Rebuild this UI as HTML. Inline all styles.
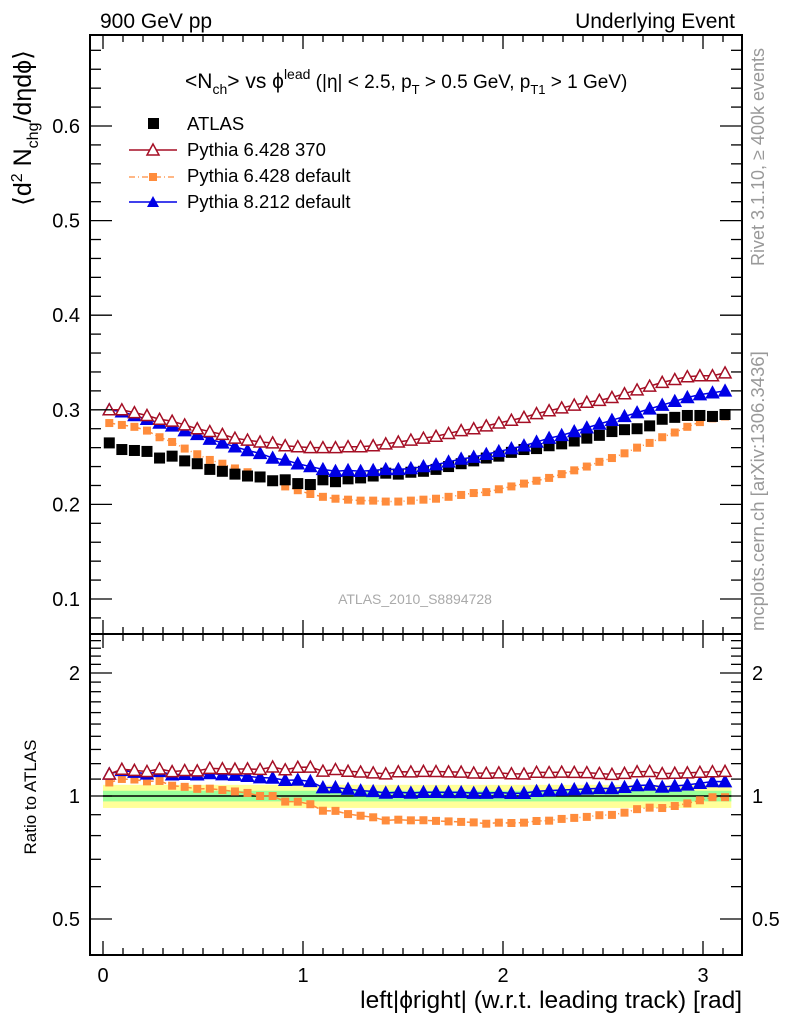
<!DOCTYPE html>
<html><head><meta charset="utf-8"><style>
body{margin:0;background:#fff;}
svg{display:block;font-family:"Liberation Sans",sans-serif;}
</style></head><body>
<svg id="chart" width="786" height="1024" viewBox="0 0 786 1024" xmlns="http://www.w3.org/2000/svg">
<text x="100" y="28" font-size="21">900 GeV pp</text>
<text x="735" y="28" font-size="21" text-anchor="end">Underlying Event</text>
<text transform="translate(764,266) rotate(-90)" font-size="18" fill="#999">Rivet 3.1.10, ≥ 400k events</text>
<text transform="translate(764,631) rotate(-90)" font-size="18.5" fill="#999">mcplots.cern.ch [arXiv:1306.3436]</text>
<text x="185" y="88" font-size="21">&lt;N<tspan font-size="14" dy="6">ch</tspan><tspan dy="-6">&gt; vs ϕ</tspan><tspan font-size="14" dy="-9">lead</tspan><tspan font-size="19" dy="9"> (|η| &lt; 2.5, p</tspan><tspan font-size="13" dy="6">T</tspan><tspan font-size="19" dy="-6"> &gt; 0.5 GeV, p</tspan><tspan font-size="13" dy="6">T1</tspan><tspan font-size="19" dy="-6"> &gt; 1 GeV)</tspan></text>
<text transform="translate(31,128) rotate(-90)" font-size="25" text-anchor="middle">⟨d<tspan font-size="16" dy="-9">2</tspan><tspan dy="9"> N</tspan><tspan font-size="16" dy="7">chg</tspan><tspan dy="-7">/dηdϕ⟩</tspan></text>
<text transform="translate(36,797) rotate(-90)" font-size="17" text-anchor="middle">Ratio to ATLAS</text>
<text x="742" y="1008" font-size="24.5" text-anchor="end">left|ϕright| (w.r.t. leading track) [rad]</text>
<text x="415" y="604" font-size="14" fill="#aaa" text-anchor="middle">ATLAS_2010_S8894728</text>
<g id="legend">
<g><rect x="148" y="118" width="11" height="11" fill="#000"/><text x="187" y="130" font-size="18.5">ATLAS</text></g>
<g><line x1="129" y1="150" x2="177" y2="150" stroke="#a50f25" stroke-width="1.5"/><path d="M153,144 L159,155 L147,155 Z" fill="#fff" stroke="#a50f25" stroke-width="1.5"/><text x="187" y="156" font-size="18.5">Pythia 6.428 370</text></g>
<g><line x1="129" y1="177" x2="177" y2="177" stroke="#ff8c3c" stroke-width="1.3" stroke-dasharray="6,3,1,3"/><rect x="149" y="173" width="8" height="8" fill="#ff8c3c"/><text x="187" y="182" font-size="18.5">Pythia 6.428 default</text></g>
<g><line x1="129" y1="202" x2="177" y2="202" stroke="#0000e6" stroke-width="1.5"/><path d="M153,196 L159,207 L147,207 Z" fill="#0000e6"/><text x="187" y="208" font-size="18.5">Pythia 8.212 default</text></g>
</g>
<g id="band"></g><g id="series"></g><g id="axes"></g>
</svg>
<script>
const atlas=[0.265,0.258,0.257,0.256,0.249,0.251,0.246,0.243,0.237,0.235,0.232,0.230,0.229,0.225,0.226,0.222,0.221,0.226,0.224,0.227,0.228,0.230,0.233,0.232,0.234,0.235,0.237,0.240,0.243,0.246,0.249,0.251,0.255,0.258,0.259,0.262,0.264,0.267,0.270,0.273,0.277,0.279,0.280,0.283,0.290,0.292,0.294,0.294,0.293,0.295];
const py6_370=[0.300,0.300,0.297,0.294,0.290,0.288,0.284,0.280,0.277,0.274,0.270,0.268,0.266,0.265,0.262,0.261,0.260,0.260,0.260,0.261,0.261,0.262,0.264,0.266,0.268,0.270,0.272,0.275,0.278,0.280,0.283,0.286,0.289,0.292,0.296,0.299,0.302,0.305,0.308,0.310,0.313,0.317,0.321,0.325,0.329,0.332,0.335,0.336,0.336,0.339];
const py6_def=[0.286,0.284,0.282,0.278,0.271,0.266,0.259,0.253,0.247,0.243,0.238,0.234,0.229,0.225,0.219,0.215,0.211,0.208,0.206,0.205,0.204,0.204,0.203,0.203,0.204,0.205,0.206,0.208,0.210,0.212,0.213,0.216,0.219,0.222,0.225,0.228,0.232,0.236,0.240,0.245,0.249,0.254,0.260,0.265,0.271,0.276,0.282,0.287,0.291,0.293];
const py8=[0.300,0.298,0.294,0.290,0.286,0.283,0.278,0.274,0.269,0.265,0.261,0.257,0.254,0.249,0.247,0.243,0.240,0.237,0.235,0.236,0.235,0.236,0.237,0.237,0.238,0.240,0.242,0.245,0.248,0.250,0.253,0.256,0.259,0.262,0.266,0.270,0.273,0.277,0.281,0.285,0.289,0.293,0.297,0.301,0.305,0.309,0.313,0.316,0.318,0.320];
const mainTicks=[0.1,0.2,0.3,0.4,0.5,0.6];
const ratioTicks=[0.5,1,2];
const xTicks=[0,1,2,3];
const errStat=0.03, errTot=0.065;

const NS="http://www.w3.org/2000/svg";
const L=90,R=742,T=35,MID=634,B=955;
const X=v=>103+v*200;
const Y=v=>126+(0.6-v)*946;
const YR=v=>796-Math.log2(v)*123;
const xc=i=>(i+0.5)*Math.PI/atlas.length;
function mk(tag,attrs,parent){const e=document.createElementNS(NS,tag);for(const k in attrs)e.setAttribute(k,attrs[k]);parent.appendChild(e);return e;}
const band=document.getElementById('band'),ser=document.getElementById('series'),ax=document.getElementById('axes');

const bx0=X(xc(0)-Math.PI/100), bx1=X(xc(atlas.length-1)+Math.PI/100);
let by=mk('rect',{x:bx0,y:YR(1+errTot),width:bx1-bx0,height:YR(1-errTot)-YR(1+errTot),fill:'#ffff99'},band);


let bg=mk('rect',{x:bx0,y:YR(1+errStat),width:bx1-bx0,height:YR(1-errStat)-YR(1+errStat),fill:'#99ff99'},band);


let rl=mk('line',{x1:bx0,x2:bx1,y1:YR(1),y2:YR(1),stroke:'#000','stroke-width':1.5},band);



function tri(g,x,y,col,fill){const p=mk('path',{d:`M${x},${y-6} L${x+6},${y+5} L${x-6},${y+5} Z`,fill:fill?col:'#fff',stroke:col,'stroke-width':1.5},g);return p;}
function drawSeries(name,vals,col,kind,dash,ymap,ratio){
  const g=mk('g',{},ser);
  
  
  const pts=vals.map((v,i)=>[X(xc(i)),ymap(ratio?v/atlas[i]:v)]);
  if(kind!=='sq'){
    const pl=mk('polyline',{points:pts.map(p=>p.join(',')).join(' '),fill:'none',stroke:col,'stroke-width':1.5},g);
    if(dash)pl.setAttribute('stroke-dasharray',dash);
  }
  pts.forEach(p=>{
    let m;
    if(kind==='sq')m=mk('rect',{x:p[0]-5.5,y:p[1]-5.5,width:11,height:11,fill:col},g);
    else if(kind==='osq')m=mk('rect',{x:p[0]-4,y:p[1]-4,width:8,height:8,fill:col},g);
    else m=tri(g,p[0],p[1],col,kind==='ftri');
    
    
  });
}
drawSeries('series-pythia6-default',py6_def,'#ff8c3c','osq','6,3,1,3',Y,false);
drawSeries('series-atlas',atlas,'#000','sq',null,Y,false);
drawSeries('series-pythia8',py8,'#0000e6','ftri',null,Y,false);
drawSeries('series-pythia6-370',py6_370,'#a50f25','otri',null,Y,false);
drawSeries('ratio-pythia6-default',py6_def,'#ff8c3c','osq','6,3,1,3',YR,true);
drawSeries('ratio-pythia8',py8,'#0000e6','ftri',null,YR,true);
drawSeries('ratio-pythia6-370',py6_370,'#a50f25','otri',null,YR,true);

const f1=mk('rect',{x:L,y:T,width:R-L,height:MID-T,fill:'none',stroke:'#000','stroke-width':2},ax);


const f2=mk('rect',{x:L,y:MID,width:R-L,height:B-MID,fill:'none',stroke:'#000','stroke-width':2},ax);


function tk(x1,y1,x2,y2){mk('line',{x1,y1,x2,y2,stroke:'#000','stroke-width':1.3},ax);}
for(let k=0;k<=32;k++){const v=k/10,x=X(v);if(x>R)break;const big=k%10===0?1:0;const len=big?14:7;
  tk(x,B,x,B-len);tk(x,MID,x,MID-len);tk(x,MID,x,MID+len);tk(x,T,x,T+len);}
xTicks.forEach(v=>{const t=mk('text',{x:X(v),y:982,'font-size':20,'text-anchor':'middle'},ax);t.textContent=v;
  
  });
for(let k=4;k<=69;k++){const v=k/100;if(k%2)continue;const y=Y(v);if(y<T||y>MID)continue;const big=k%10===0;const len=big?22:11;tk(L,y,L+len,y);tk(R,y,R-len,y);}
mainTicks.forEach(v=>{const t=mk('text',{x:80,y:Y(v)+7,'font-size':20,'text-anchor':'end'},ax);t.textContent=v;
  
  });
for(let k=5;k<=25;k++){const v=k/10;const y=YR(v);if(y<MID||y>B)continue;const big=ratioTicks.includes(v);const len=big?22:11;tk(L,y,L+len,y);tk(R,y,R-len,y);}
ratioTicks.forEach(v=>{
  const t=mk('text',{x:80,y:YR(v)+7,'font-size':20,'text-anchor':'end'},ax);t.textContent=v;
  
  
  const t2=mk('text',{x:752,y:YR(v)+7,'font-size':20},ax);t2.textContent=v;
  
  });
</script>
</body></html>
